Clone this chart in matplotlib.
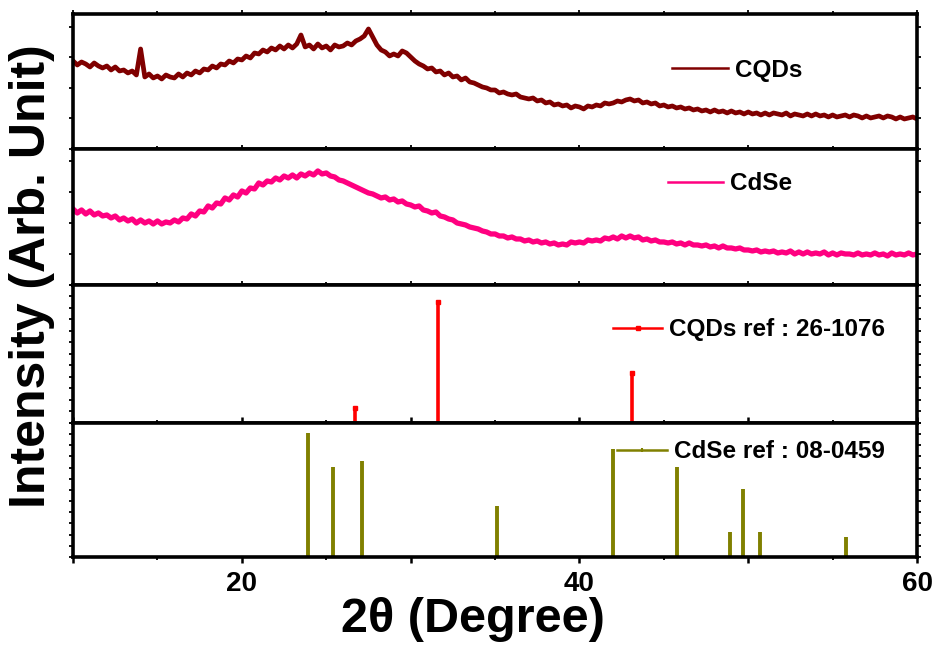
import numpy as np
import matplotlib
matplotlib.use('Agg')
import matplotlib.pyplot as plt
from matplotlib.lines import Line2D
from matplotlib.ticker import MultipleLocator, FuncFormatter

plt.rcParams['font.family'] = ['Liberation Sans', 'DejaVu Sans']
plt.rcParams['font.weight'] = 'bold'

# 2theta grid, 0.25 degree step from 10 to 60
two_theta = np.arange(0, 201) * 0.25 + 10

# measured patterns (arb. units)
cqds = [88, 84, 87, 85, 82, 86, 83, 81, 83, 79, 82, 78, 79, 76, 78, 74,
        100, 72, 75, 71, 73, 70, 74, 72, 71, 75, 72, 76, 74, 78, 76, 80,
        79, 83, 81, 85, 84, 88, 86, 90, 89, 93, 91, 96, 95, 99, 97, 101,
        99, 103, 100, 104, 101, 105, 114, 102, 104, 100, 105, 101, 103, 99, 104, 102,
        103, 106, 104, 108, 110, 113, 120, 112, 104, 99, 97, 93, 95, 93, 98, 96,
        92, 88, 85, 83, 80, 81, 77, 78, 74, 76, 72, 73, 69, 71, 67, 66,
        64, 62, 61, 59, 59, 56, 57, 55, 54, 55, 52, 51, 50, 51, 48, 49,
        46, 47, 44, 45, 43, 44, 41, 43, 42, 40, 43, 42, 44, 43, 46, 45,
        46, 48, 47, 49, 50, 48, 49, 46, 47, 45, 46, 43, 44, 42, 43, 41,
        42, 40, 41, 39, 40, 38, 39, 37, 39, 37, 38, 36, 38, 36, 37, 35,
        37, 35, 36, 34, 36, 34, 36, 35, 34, 36, 33, 35, 34, 33, 35, 33,
        35, 33, 34, 32, 34, 32, 33, 34, 32, 34, 33, 31, 33, 31, 32, 33,
        31, 33, 32, 30, 32, 30, 31, 32, 30]

cdse = [76, 72, 75, 71, 74, 70, 72, 69, 70, 67, 69, 65, 67, 64, 66, 62,
        65, 62, 64, 61, 64, 61, 63, 62, 65, 63, 67, 66, 71, 69, 74, 73,
        79, 77, 82, 81, 87, 85, 90, 88, 94, 92, 97, 96, 102, 100, 104, 103,
        107, 105, 109, 107, 110, 107, 111, 109, 112, 110, 114, 111, 112, 109, 108, 105,
        104, 102, 100, 98, 96, 94, 92, 91, 89, 87, 88, 85, 86, 83, 84, 81,
        80, 78, 79, 75, 74, 72, 73, 69, 68, 66, 65, 62, 61, 60, 58, 57,
        56, 54, 53, 51, 51, 49, 49, 47, 48, 46, 46, 44, 45, 43, 44, 42,
        43, 41, 42, 40, 41, 40, 43, 42, 43, 42, 45, 44, 45, 44, 47, 46,
        48, 46, 49, 47, 49, 47, 48, 45, 46, 44, 45, 43, 43, 42, 43, 41,
        42, 40, 42, 40, 40, 39, 40, 38, 39, 37, 39, 37, 37, 36, 37, 35,
        35, 34, 35, 33, 34, 33, 34, 32, 33, 32, 34, 31, 33, 31, 33, 31,
        32, 31, 33, 30, 32, 30, 32, 31, 31, 30, 32, 30, 31, 30, 32, 30,
        31, 29, 32, 30, 31, 30, 32, 30, 31]

# reference stick patterns
cqds_ref_pos = [26.7, 31.6, 43.1]
cqds_ref_int = [15, 121, 50]
cdse_ref_pos = [23.9, 25.4, 27.1, 35.1, 42.0, 45.8, 48.9, 49.7, 50.7, 55.8]
cdse_ref_int = [124, 90, 96, 51, 108, 90, 25, 68, 25, 20]

labels = ['CQDs', 'CdSe', 'CQDs ref : 26-1076', 'CdSe ref : 08-0459']
colors = ['#800000', '#ff0080', '#ff0000', '#808000']

fig = plt.figure(figsize=(9.37, 6.5), dpi=100)
gs = fig.add_gridspec(4, 1, height_ratios=[135, 136, 138, 134], hspace=0,
                      left=0.078, right=0.9787, top=0.9785, bottom=0.1431)
axes = [fig.add_subplot(gs[i]) for i in range(4)]

axes[0].plot(two_theta, cqds, color=colors[0], lw=3.4)
axes[1].plot(two_theta, cdse, color=colors[1], lw=3.8)
axes[2].vlines(cqds_ref_pos, 0, cqds_ref_int, color=colors[2], lw=2.6)
axes[2].plot(cqds_ref_pos, cqds_ref_int, 's', color=colors[2], ms=2.5)
axes[3].vlines(cdse_ref_pos, 0, cdse_ref_int, color=colors[3], lw=2.8)

ylims = [135, 136, 138, 134]
for ax, top in zip(axes, ylims):
    ax.set_xlim(10, 60)
    ax.set_ylim(0, top)
    for s in ax.spines.values():
        s.set_linewidth(2.6)
    ax.xaxis.set_major_locator(MultipleLocator(10))
    ax.xaxis.set_minor_locator(MultipleLocator(5))
    ax.tick_params(axis='both', which='both', direction='out', top=True,
                   right=True, width=1.3, labelleft=False, labelbottom=False)
    ax.tick_params(which='major', length=3)
    ax.tick_params(which='minor', length=2)

axes[0].yaxis.set_major_locator(MultipleLocator(30.5))
axes[1].yaxis.set_major_locator(MultipleLocator(31))
axes[2].set_yticks(np.linspace(0, 138, 13))
axes[3].set_yticks(np.linspace(0, 134, 13))

axes[3].tick_params(axis='x', labelbottom=True, labelsize=20, pad=6)
axes[3].tick_params(axis='x', which='major', length=4, width=1.8)
axes[3].xaxis.set_major_formatter(
    FuncFormatter(lambda v, p: '%d' % v if int(v) % 20 == 0 and v > 10 else ''))
for lab in axes[3].get_xticklabels():
    lab.set_fontweight('bold')

# legends
handles = [
    Line2D([], [], color=colors[0], lw=1.8),
    Line2D([], [], color=colors[1], lw=1.8),
    Line2D([], [], color=colors[2], lw=1.8, marker='s', ms=2.5),
    Line2D([], [], color=colors[3], lw=1.8, marker='|', ms=3, mew=1.5),
]
anchors = [(0.7097, 0.585), (0.705, 0.743), (0.640, 0.674), (0.6445, 0.784)]
hlens = [2.3, 2.26, 2.0, 2.05]
for ax, h, lab, anc, hl in zip(axes, handles, labels, anchors, hlens):
    ax.legend([h], [lab], loc='center left', bbox_to_anchor=anc, frameon=False,
              borderpad=0, borderaxespad=0, handlelength=hl, handletextpad=0.3,
              prop={'size': 17.5, 'weight': 'bold'})

fig.text(32 / 937, 1 - 276 / 650, 'Intensity (Arb. Unit)', rotation=90,
         ha='center', va='center', fontsize=36, fontweight='bold')
fig.text(473 / 937, 1 - 620 / 650, '2\u03b8 (Degree)', ha='center',
         va='center', fontsize=35, fontweight='bold')

fig.savefig('out.png', dpi=100)
